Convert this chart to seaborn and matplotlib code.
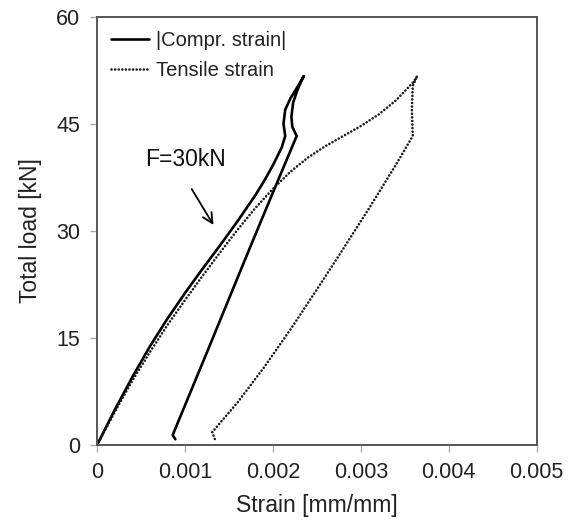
import matplotlib
matplotlib.use("Agg")
import matplotlib.pyplot as plt
import seaborn as sns
import pandas as pd

# Compressive strain (absolute) - loading then unloading
compr_strain = [0.0, 0.0002, 0.0004, 0.0006, 0.0008, 0.0010, 0.0012, 0.0014, 0.0016, 0.0018,
                0.0019, 0.0020, 0.0021, 0.00214, 0.00212, 0.00214, 0.00220, 0.00228, 0.00235,
                0.00228, 0.00223, 0.00221, 0.00222, 0.00227, 0.00198, 0.00173, 0.00155,
                0.00126, 0.00086, 0.00089]
compr_load = [0.0, 4.9, 9.5, 13.8, 17.7, 21.3, 24.7, 28.0, 31.4, 35.0,
              37.0, 39.2, 41.7, 43.3, 45.0, 47.0, 48.6, 50.2, 51.7,
              49.8, 48.0, 46.0, 44.6, 43.3, 34.8, 27.4, 22.0,
              13.3, 1.4, 0.8]

# Tensile strain - loading then unloading
tens_strain = [0.0, 0.0002, 0.0004, 0.0006, 0.0008, 0.0010, 0.0012, 0.0014, 0.0016, 0.0018,
               0.0020, 0.0022, 0.0024, 0.0026, 0.0028, 0.0030, 0.0032, 0.0034, 0.0036, 0.00364,
               0.00359, 0.00358, 0.00359, 0.00340, 0.00310, 0.00280, 0.00250, 0.00220,
               0.00190, 0.00160, 0.00131, 0.00134]
tens_load = [0.0, 4.6, 9.0, 13.0, 16.8, 20.3, 23.7, 27.0, 30.2, 33.2,
             35.9, 38.3, 40.3, 41.9, 43.3, 44.7, 46.3, 48.3, 50.9, 51.7,
             50.3, 47.0, 43.3, 39.3, 33.3, 27.5, 21.8, 16.2,
             10.9, 6.0, 1.8, 0.8]

x_ticks = [0, 0.001, 0.002, 0.003, 0.004, 0.005]
x_tick_labels = ["0", "0.001", "0.002", "0.003", "0.004", "0.005"]
y_ticks = [0, 15, 30, 45, 60]

sns.set_theme(style="ticks")
plt.rcParams['font.family'] = ['Liberation Sans', 'DejaVu Sans']

fig = plt.figure(figsize=(5.71, 5.26), dpi=100)
ax = fig.add_axes([0.170, 0.154, 0.770, 0.814])

df_c = pd.DataFrame({"strain": compr_strain, "load": compr_load})
df_t = pd.DataFrame({"strain": tens_strain, "load": tens_load})

sns.lineplot(data=df_c, x="strain", y="load", sort=False, estimator=None, ax=ax,
             color="black", lw=1.9, label="|Compr. strain|")
sns.lineplot(data=df_t, x="strain", y="load", sort=False, estimator=None, ax=ax,
             color="#1a1a1a", lw=1.9, linestyle=(0, (0.01, 1.35)), label="Tensile strain",
             dash_capstyle="round")

ax.set_xlim(0, 0.005)
ax.set_ylim(0, 60)
ax.set_xticks(x_ticks)
ax.set_xticklabels(x_tick_labels)
ax.set_yticks(y_ticks)
ax.tick_params(axis="both", labelsize=15.5, colors="#aaaaaa", labelcolor="#222222",
               length=5, width=1, direction="out", pad=7)

for s in ax.spines.values():
    s.set_visible(True)
    s.set_color("#555555")
    s.set_linewidth(1.4)

ax.set_xlabel("Strain [mm/mm]", fontsize=16.5, color="#222222", labelpad=8)
ax.set_ylabel("Total load [kN]", fontsize=16.5, color="#222222", labelpad=10)

ax.annotate("", xy=(0.00134, 30.5), xytext=(0.00106, 36.2),
            arrowprops=dict(arrowstyle="->", lw=1.3, color="black",
                            mutation_scale=18))
ax.text(0.00100, 40.0, "F=30kN", fontsize=16.5, ha="center", va="center", color="#111111")

leg = ax.legend(loc="upper left", frameon=False, fontsize=14.5, handlelength=1.9,
                handletextpad=0.35, labelspacing=0.55, borderaxespad=0.3,
                borderpad=0.4)
for t in leg.get_texts():
    t.set_color("#222222")

fig.savefig("out.png", dpi=100)
